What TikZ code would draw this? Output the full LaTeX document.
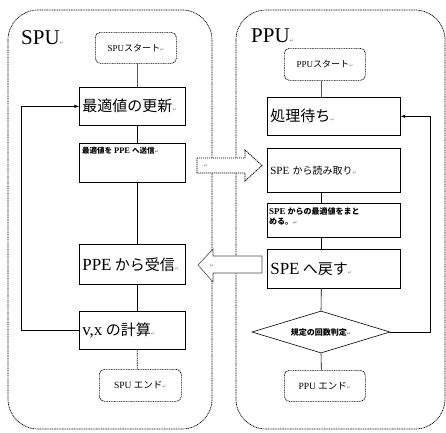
\documentclass[tikz,border=0pt]{standalone}
\usepackage{fontspec}
\setmainfont{Liberation Serif}
\newfontfamily\jp{Noto Sans CJK JP}
\newfontfamily\retfont{DejaVu Sans}
\usetikzlibrary{shapes.geometric}
\newcommand\retmark{{\retfont\fontsize{5pt}{5pt}\selectfont\color{gray}↵}}
\newcommand\fsz[1]{\fontsize{#1pt}{#1pt}\selectfont}
\begin{document}
\begin{tikzpicture}[x=1pt,y=-1pt,
  ln/.style={line width=0.6pt},
  fine/.style={line width=0.7pt, dash pattern=on 1pt off 0.7pt},
  bx/.style={draw, ln, anchor=north west, inner sep=3pt, align=left},
  term/.style={draw, fine, rounded corners=5pt, anchor=north west, inner sep=0pt, align=center},
  cont/.style={fine, rounded corners=30pt}
]
\useasboundingbox (0,0) rectangle (446,432);
% containers
\draw[cont] (8,10) rectangle (212,429);
\draw[cont] (236,10) rectangle (445,429);
\node[anchor=west, inner sep=0pt, font=\fsz{21}] (spul) at (21,38) {SPU\retmark};
\node[anchor=west, inner sep=0pt, font=\fsz{21}] (ppul) at (251,36) {PPU\retmark};

% SPU column
\node[term, minimum width=81pt, minimum height=31pt, font=\fsz{9}] (sstart) at (95,32) {SPU{\jp スタート}\retmark};
\node[bx, text width=100pt, minimum height=38pt] (b1) at (79,87) {{\jp\fsz{15}最適値の更新}\retmark};
\node[bx, minimum width=106pt, minimum height=39pt] (b2) at (79,143) {};
\node[anchor=north west, inner sep=0pt, font=\fsz{7.5}\bfseries] (b2t) at (82,147) {{\jp 最適値を} {\fsz{8.5}PPE} {\jp へ送信}\retmark};
\node[bx, text width=100pt, minimum height=40pt] (b3) at (79,244) {\mbox{{\fsz{17}PPE} {\jp\fsz{15}から受信}\retmark}};
\node[bx, text width=100pt, minimum height=38pt] (b4) at (79,311) {\mbox{{\fsz{17}v,x} {\jp\fsz{15}の計算}\retmark}};
\node[term, minimum width=82pt, minimum height=32pt, font=\fsz{9.5}] (send) at (99,369) {SPU {\jp エンド}\retmark};

\draw[ln] ([xshift=1.5pt]sstart.south) -- ([xshift=5pt]b1.north);
\draw[ln] ([xshift=5pt]b1.south) -- ([xshift=5pt]b2.north);
\draw[ln] ([xshift=5pt]b2.south) -- ([xshift=5pt]b3.north);
\draw[ln] ([xshift=5pt]b3.south) -- ([xshift=5pt]b4.north);
\draw[fine] ([xshift=5pt]b4.south) -- ([xshift=-3pt]send.north);
\draw[ln, -latex] (b4.west) -- ++(-58,0) |- (b1.west);

% PPU column
\node[term, minimum width=81pt, minimum height=32pt, font=\fsz{9}] (pstart) at (284,48) {PPU{\jp スタート}\retmark};
\node[bx, text width=127pt, minimum height=38pt] (r1) at (267,97) {{\jp\fsz{15}処理待ち}\retmark};
\node[bx, text width=127pt, minimum height=44pt] (r2) at (267,148) {{\fsz{11}SPE} {\jp\fsz{10}から読み取り}\retmark};
\node[bx, minimum width=133pt, minimum height=34pt] (r3) at (267,203) {};
\node[anchor=north west, inner sep=0pt, align=left, font=\fsz{8}\bfseries] (r3t) at (269,207) {{\fsz{9}SPE} {\jp からの最適値をまと}\\[2pt]{\jp める。}\retmark};
\node[bx, text width=127pt, minimum height=39pt] (r4) at (267,249) {\mbox{{\fsz{17}SPE} {\jp\fsz{15}へ戻す}\retmark}};
\node[diamond, draw, ln, aspect=3.3, minimum width=138pt, minimum height=42pt, inner sep=0pt, font=\fsz{8}\bfseries] (dia) at (321,332) {{\jp 規定の回数判定}\retmark};
\node[term, minimum width=81pt, minimum height=31pt, font=\fsz{9.5}] (pend) at (284,370) {PPU {\jp エンド}\retmark};

\draw[ln] ([xshift=-3.5pt]pstart.south) -- ([xshift=-12.5pt]r1.north);
\draw[ln] ([xshift=-12.5pt]r2.south) -- ([xshift=-12.5pt]r3.north);
\draw[ln] ([xshift=-12.5pt]r3.south) -- ([xshift=-12.5pt]r4.north);
\draw[ln] ([xshift=-12.5pt]r4.south) -- (dia.north);
\draw[ln] (dia.south) -- ([xshift=-3.5pt]pend.north);
\draw[ln, -latex] (dia.east) -- (430,332) |- (r1.east);

% block arrows
\draw[line width=0.8pt, dash pattern=on 1.2pt off 0.8pt, fill=white] (197,158) -- (245,158) -- (245,150) -- (262,165.5) -- (245,181) -- (245,173) -- (197,173) -- cycle;
\node[inner sep=0pt] (ra) at (206,166) {\retmark};
\draw[ln, draw=black!70, fill=white] (262,256) -- (213,256) -- (213,249) -- (198,265) -- (213,282) -- (213,273) -- (262,273) -- cycle;
\node[inner sep=0pt] (la) at (212,266) {\retmark};
\end{tikzpicture}
\end{document}
